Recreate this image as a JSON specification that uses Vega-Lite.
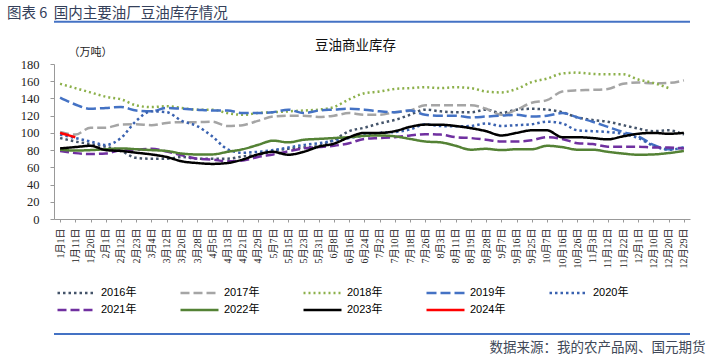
{
"$schema": "https://vega.github.io/schema/vega-lite/v6.json",
"autosize": {"type": "none"},
"width": 636, "height": 155,
"padding": {"left": 54, "top": 64, "right": 23, "bottom": 140},
"background": "white",
"config": {"view": {"stroke": null}},
"title": {"text": "图表 6\u00a0\u00a0国内主要油厂豆油库存情况", "anchor": "start", "frame": "group", "dx": -47, "dy": 1, "offset": 0, "font": "Noto Sans CJK SC", "fontSize": 14.5, "fontWeight": "normal", "color": "#34405a"},
"datasets": {"stock": [
{"d":"1月1日","year":"2016年","v":94},{"d":"1月11日","year":"2016年","v":90},{"d":"1月20日","year":"2016年","v":87},{"d":"2月1日","year":"2016年","v":84},{"d":"2月12日","year":"2016年","v":79},{"d":"2月23日","year":"2016年","v":71},{"d":"3月4日","year":"2016年","v":70},{"d":"3月12日","year":"2016年","v":70},{"d":"3月20日","year":"2016年","v":72},{"d":"3月28日","year":"2016年","v":70},{"d":"4月5日","year":"2016年","v":70},{"d":"4月13日","year":"2016年","v":70},{"d":"4月21日","year":"2016年","v":72.7},{"d":"4月29日","year":"2016年","v":74.6},{"d":"5月7日","year":"2016年","v":79},{"d":"5月15日","year":"2016年","v":81.5},{"d":"5月23日","year":"2016年","v":83},{"d":"5月31日","year":"2016年","v":85},{"d":"6月8日","year":"2016年","v":92},{"d":"6月16日","year":"2016年","v":102},{"d":"6月24日","year":"2016年","v":106},{"d":"7月2日","year":"2016年","v":111},{"d":"7月10日","year":"2016年","v":115},{"d":"7月18日","year":"2016年","v":121},{"d":"7月26日","year":"2016年","v":127},{"d":"8月3日","year":"2016年","v":125},{"d":"8月11日","year":"2016年","v":124},{"d":"8月19日","year":"2016年","v":124},{"d":"8月28日","year":"2016年","v":127},{"d":"9月7日","year":"2016年","v":123},{"d":"9月16日","year":"2016年","v":127},{"d":"9月25日","year":"2016年","v":128},{"d":"10月7日","year":"2016年","v":127},{"d":"10月16日","year":"2016年","v":124},{"d":"10月26日","year":"2016年","v":118},{"d":"11月3日","year":"2016年","v":115},{"d":"11月12日","year":"2016年","v":113},{"d":"11月22日","year":"2016年","v":109},{"d":"12月1日","year":"2016年","v":105},{"d":"12月10日","year":"2016年","v":102},{"d":"12月20日","year":"2016年","v":103},{"d":"12月29日","year":"2016年","v":98},
{"d":"1月1日","year":"2017年","v":101},{"d":"1月11日","year":"2017年","v":98},{"d":"1月20日","year":"2017年","v":106},{"d":"2月1日","year":"2017年","v":106},{"d":"2月12日","year":"2017年","v":109.6},{"d":"2月23日","year":"2017年","v":110},{"d":"3月4日","year":"2017年","v":109},{"d":"3月12日","year":"2017年","v":111.5},{"d":"3月20日","year":"2017年","v":112.5},{"d":"3月28日","year":"2017年","v":112.5},{"d":"4月5日","year":"2017年","v":113},{"d":"4月13日","year":"2017年","v":108},{"d":"4月21日","year":"2017年","v":109},{"d":"4月29日","year":"2017年","v":114},{"d":"5月7日","year":"2017年","v":119},{"d":"5月15日","year":"2017年","v":120},{"d":"5月23日","year":"2017年","v":120},{"d":"5月31日","year":"2017年","v":118.5},{"d":"6月8日","year":"2017年","v":120},{"d":"6月16日","year":"2017年","v":123},{"d":"6月24日","year":"2017年","v":121},{"d":"7月2日","year":"2017年","v":121},{"d":"7月10日","year":"2017年","v":124},{"d":"7月18日","year":"2017年","v":126},{"d":"7月26日","year":"2017年","v":132},{"d":"8月3日","year":"2017年","v":132},{"d":"8月11日","year":"2017年","v":132},{"d":"8月19日","year":"2017年","v":132},{"d":"8月28日","year":"2017年","v":128},{"d":"9月7日","year":"2017年","v":121},{"d":"9月16日","year":"2017年","v":127},{"d":"9月25日","year":"2017年","v":135},{"d":"10月7日","year":"2017年","v":138},{"d":"10月16日","year":"2017年","v":148},{"d":"10月26日","year":"2017年","v":149.5},{"d":"11月3日","year":"2017年","v":150},{"d":"11月12日","year":"2017年","v":151},{"d":"11月22日","year":"2017年","v":157},{"d":"12月1日","year":"2017年","v":158.5},{"d":"12月10日","year":"2017年","v":157.5},{"d":"12月20日","year":"2017年","v":158},{"d":"12月29日","year":"2017年","v":161},
{"d":"1月1日","year":"2018年","v":157},{"d":"1月11日","year":"2018年","v":152},{"d":"1月20日","year":"2018年","v":147},{"d":"2月1日","year":"2018年","v":142},{"d":"2月12日","year":"2018年","v":139},{"d":"2月23日","year":"2018年","v":132},{"d":"3月4日","year":"2018年","v":130},{"d":"3月12日","year":"2018年","v":131},{"d":"3月20日","year":"2018年","v":129},{"d":"3月28日","year":"2018年","v":127},{"d":"4月5日","year":"2018年","v":127},{"d":"4月13日","year":"2018年","v":123},{"d":"4月21日","year":"2018年","v":121},{"d":"4月29日","year":"2018年","v":123},{"d":"5月7日","year":"2018年","v":124},{"d":"5月15日","year":"2018年","v":125},{"d":"5月23日","year":"2018年","v":126},{"d":"5月31日","year":"2018年","v":127},{"d":"6月8日","year":"2018年","v":130},{"d":"6月16日","year":"2018年","v":139},{"d":"6月24日","year":"2018年","v":146},{"d":"7月2日","year":"2018年","v":148},{"d":"7月10日","year":"2018年","v":151},{"d":"7月18日","year":"2018年","v":152},{"d":"7月26日","year":"2018年","v":153},{"d":"8月3日","year":"2018年","v":152},{"d":"8月11日","year":"2018年","v":153},{"d":"8月19日","year":"2018年","v":152},{"d":"8月28日","year":"2018年","v":148},{"d":"9月7日","year":"2018年","v":147},{"d":"9月16日","year":"2018年","v":151},{"d":"9月25日","year":"2018年","v":159},{"d":"10月7日","year":"2018年","v":163},{"d":"10月16日","year":"2018年","v":169},{"d":"10月26日","year":"2018年","v":170},{"d":"11月3日","year":"2018年","v":168.5},{"d":"11月12日","year":"2018年","v":168},{"d":"11月22日","year":"2018年","v":168},{"d":"12月1日","year":"2018年","v":162},{"d":"12月10日","year":"2018年","v":158},{"d":"12月20日","year":"2018年","v":152},
{"d":"1月1日","year":"2019年","v":141},{"d":"1月11日","year":"2019年","v":133},{"d":"1月20日","year":"2019年","v":128},{"d":"2月1日","year":"2019年","v":129},{"d":"2月12日","year":"2019年","v":130},{"d":"2月23日","year":"2019年","v":126},{"d":"3月4日","year":"2019年","v":125},{"d":"3月12日","year":"2019年","v":129},{"d":"3月20日","year":"2019年","v":128},{"d":"3月28日","year":"2019年","v":127},{"d":"4月5日","year":"2019年","v":126},{"d":"4月13日","year":"2019年","v":126},{"d":"4月21日","year":"2019年","v":123},{"d":"4月29日","year":"2019年","v":123},{"d":"5月7日","year":"2019年","v":124},{"d":"5月15日","year":"2019年","v":127},{"d":"5月23日","year":"2019年","v":123},{"d":"5月31日","year":"2019年","v":126},{"d":"6月8日","year":"2019年","v":127},{"d":"6月16日","year":"2019年","v":128},{"d":"6月24日","year":"2019年","v":127},{"d":"7月2日","year":"2019年","v":125},{"d":"7月10日","year":"2019年","v":124},{"d":"7月18日","year":"2019年","v":126},{"d":"7月26日","year":"2019年","v":121},{"d":"8月3日","year":"2019年","v":120},{"d":"8月11日","year":"2019年","v":120},{"d":"8月19日","year":"2019年","v":118},{"d":"8月28日","year":"2019年","v":119},{"d":"9月7日","year":"2019年","v":120},{"d":"9月16日","year":"2019年","v":121},{"d":"9月25日","year":"2019年","v":119},{"d":"10月7日","year":"2019年","v":120},{"d":"10月16日","year":"2019年","v":123},{"d":"10月26日","year":"2019年","v":118},{"d":"11月3日","year":"2019年","v":113},{"d":"11月12日","year":"2019年","v":107},{"d":"11月22日","year":"2019年","v":101},{"d":"12月1日","year":"2019年","v":96},{"d":"12月10日","year":"2019年","v":86},{"d":"12月20日","year":"2019年","v":81},{"d":"12月29日","year":"2019年","v":83},
{"d":"1月1日","year":"2020年","v":98},{"d":"1月11日","year":"2020年","v":94},{"d":"1月20日","year":"2020年","v":90},{"d":"2月1日","year":"2020年","v":86},{"d":"2月12日","year":"2020年","v":94},{"d":"2月23日","year":"2020年","v":114},{"d":"3月4日","year":"2020年","v":125},{"d":"3月12日","year":"2020年","v":124},{"d":"3月20日","year":"2020年","v":114},{"d":"3月28日","year":"2020年","v":108},{"d":"4月5日","year":"2020年","v":96},{"d":"4月13日","year":"2020年","v":81},{"d":"4月21日","year":"2020年","v":77},{"d":"4月29日","year":"2020年","v":78},{"d":"5月7日","year":"2020年","v":80},{"d":"5月15日","year":"2020年","v":83},{"d":"5月23日","year":"2020年","v":86},{"d":"5月31日","year":"2020年","v":88},{"d":"6月8日","year":"2020年","v":91},{"d":"6月16日","year":"2020年","v":94},{"d":"6月24日","year":"2020年","v":97},{"d":"7月2日","year":"2020年","v":100},{"d":"7月10日","year":"2020年","v":101},{"d":"7月18日","year":"2020年","v":104},{"d":"7月26日","year":"2020年","v":110},{"d":"8月3日","year":"2020年","v":108},{"d":"8月11日","year":"2020年","v":107.6},{"d":"8月19日","year":"2020年","v":108},{"d":"8月28日","year":"2020年","v":111},{"d":"9月7日","year":"2020年","v":108},{"d":"9月16日","year":"2020年","v":109},{"d":"9月25日","year":"2020年","v":110},{"d":"10月7日","year":"2020年","v":113},{"d":"10月16日","year":"2020年","v":111},{"d":"10月26日","year":"2020年","v":103},{"d":"11月3日","year":"2020年","v":102},{"d":"11月12日","year":"2020年","v":101},{"d":"11月22日","year":"2020年","v":99},{"d":"12月1日","year":"2020年","v":94},{"d":"12月10日","year":"2020年","v":85},{"d":"12月20日","year":"2020年","v":80.5},{"d":"12月29日","year":"2020年","v":83},
{"d":"1月1日","year":"2021年","v":79},{"d":"1月11日","year":"2021年","v":76.5},{"d":"1月20日","year":"2021年","v":75.5},{"d":"2月1日","year":"2021年","v":76},{"d":"2月12日","year":"2021年","v":80},{"d":"2月23日","year":"2021年","v":80.5},{"d":"3月4日","year":"2021年","v":81.5},{"d":"3月12日","year":"2021年","v":78.5},{"d":"3月20日","year":"2021年","v":74},{"d":"3月28日","year":"2021年","v":70},{"d":"4月5日","year":"2021年","v":69},{"d":"4月13日","year":"2021年","v":67},{"d":"4月21日","year":"2021年","v":68},{"d":"4月29日","year":"2021年","v":72},{"d":"5月7日","year":"2021年","v":75},{"d":"5月15日","year":"2021年","v":78.5},{"d":"5月23日","year":"2021年","v":82},{"d":"5月31日","year":"2021年","v":83.5},{"d":"6月8日","year":"2021年","v":85},{"d":"6月16日","year":"2021年","v":88},{"d":"6月24日","year":"2021年","v":93},{"d":"7月2日","year":"2021年","v":94},{"d":"7月10日","year":"2021年","v":95},{"d":"7月18日","year":"2021年","v":97},{"d":"7月26日","year":"2021年","v":98.5},{"d":"8月3日","year":"2021年","v":98},{"d":"8月11日","year":"2021年","v":95},{"d":"8月19日","year":"2021年","v":94},{"d":"8月28日","year":"2021年","v":92},{"d":"9月7日","year":"2021年","v":90},{"d":"9月16日","year":"2021年","v":90},{"d":"9月25日","year":"2021年","v":91.5},{"d":"10月7日","year":"2021年","v":95},{"d":"10月16日","year":"2021年","v":93},{"d":"10月26日","year":"2021年","v":88},{"d":"11月3日","year":"2021年","v":87},{"d":"11月12日","year":"2021年","v":84},{"d":"11月22日","year":"2021年","v":84},{"d":"12月1日","year":"2021年","v":84},{"d":"12月10日","year":"2021年","v":83},{"d":"12月20日","year":"2021年","v":83},{"d":"12月29日","year":"2021年","v":82},
{"d":"1月1日","year":"2022年","v":80.5},{"d":"1月11日","year":"2022年","v":79.5},{"d":"1月20日","year":"2022年","v":80},{"d":"2月1日","year":"2022年","v":81},{"d":"2月12日","year":"2022年","v":82},{"d":"2月23日","year":"2022年","v":81},{"d":"3月4日","year":"2022年","v":80},{"d":"3月12日","year":"2022年","v":79},{"d":"3月20日","year":"2022年","v":76},{"d":"3月28日","year":"2022年","v":75},{"d":"4月5日","year":"2022年","v":75},{"d":"4月13日","year":"2022年","v":78},{"d":"4月21日","year":"2022年","v":81},{"d":"4月29日","year":"2022年","v":86},{"d":"5月7日","year":"2022年","v":91},{"d":"5月15日","year":"2022年","v":89},{"d":"5月23日","year":"2022年","v":92},{"d":"5月31日","year":"2022年","v":93},{"d":"6月8日","year":"2022年","v":94},{"d":"6月16日","year":"2022年","v":95},{"d":"6月24日","year":"2022年","v":96.5},{"d":"7月2日","year":"2022年","v":97},{"d":"7月10日","year":"2022年","v":96},{"d":"7月18日","year":"2022年","v":93},{"d":"7月26日","year":"2022年","v":90},{"d":"8月3日","year":"2022年","v":89},{"d":"8月11日","year":"2022年","v":85},{"d":"8月19日","year":"2022年","v":80.5},{"d":"8月28日","year":"2022年","v":81.5},{"d":"9月7日","year":"2022年","v":80},{"d":"9月16日","year":"2022年","v":81},{"d":"9月25日","year":"2022年","v":81},{"d":"10月7日","year":"2022年","v":85},{"d":"10月16日","year":"2022年","v":83.5},{"d":"10月26日","year":"2022年","v":80.5},{"d":"11月3日","year":"2022年","v":80.5},{"d":"11月12日","year":"2022年","v":78},{"d":"11月22日","year":"2022年","v":76},{"d":"12月1日","year":"2022年","v":74.6},{"d":"12月10日","year":"2022年","v":75},{"d":"12月20日","year":"2022年","v":76.6},{"d":"12月29日","year":"2022年","v":79},
{"d":"1月1日","year":"2023年","v":82},{"d":"1月11日","year":"2023年","v":83.5},{"d":"1月20日","year":"2023年","v":85},{"d":"2月1日","year":"2023年","v":80},{"d":"2月12日","year":"2023年","v":79},{"d":"2月23日","year":"2023年","v":77},{"d":"3月4日","year":"2023年","v":75},{"d":"3月12日","year":"2023年","v":72},{"d":"3月20日","year":"2023年","v":67},{"d":"3月28日","year":"2023年","v":65},{"d":"4月5日","year":"2023年","v":64},{"d":"4月13日","year":"2023年","v":65},{"d":"4月21日","year":"2023年","v":69},{"d":"4月29日","year":"2023年","v":75},{"d":"5月7日","year":"2023年","v":78},{"d":"5月15日","year":"2023年","v":74.6},{"d":"5月23日","year":"2023年","v":78},{"d":"5月31日","year":"2023年","v":84},{"d":"6月8日","year":"2023年","v":87.5},{"d":"6月16日","year":"2023年","v":95},{"d":"6月24日","year":"2023年","v":100},{"d":"7月2日","year":"2023年","v":100},{"d":"7月10日","year":"2023年","v":102},{"d":"7月18日","year":"2023年","v":107},{"d":"7月26日","year":"2023年","v":109.6},{"d":"8月3日","year":"2023年","v":109.5},{"d":"8月11日","year":"2023年","v":108},{"d":"8月19日","year":"2023年","v":105.5},{"d":"8月28日","year":"2023年","v":102},{"d":"9月7日","year":"2023年","v":97},{"d":"9月16日","year":"2023年","v":100},{"d":"9月25日","year":"2023年","v":103},{"d":"10月7日","year":"2023年","v":103},{"d":"10月16日","year":"2023年","v":95},{"d":"10月26日","year":"2023年","v":95},{"d":"11月3日","year":"2023年","v":94},{"d":"11月12日","year":"2023年","v":92.5},{"d":"11月22日","year":"2023年","v":96},{"d":"12月1日","year":"2023年","v":99},{"d":"12月10日","year":"2023年","v":100},{"d":"12月20日","year":"2023年","v":99},{"d":"12月29日","year":"2023年","v":100},
{"d":"1月1日","year":"2024年","v":100},{"d":"1月11日","year":"2024年","v":95}
]},
"data": {"name": "stock"},
"resolve": {"axis": {"x": "independent", "y": "independent"}},
"layer": [
{
"transform": [{"filter": "datum.year !== '2024年'"}],
"mark": {"type": "line", "strokeWidth": 2.5, "strokeCap": "butt", "interpolate": "monotone"},
"encoding": {
"x": {"field": "d", "type": "ordinal", "scale": {"type": "point", "padding": 0.4, "domain": ["1月1日","1月11日","1月20日","2月1日","2月12日","2月23日","3月4日","3月12日","3月20日","3月28日","4月5日","4月13日","4月21日","4月29日","5月7日","5月15日","5月23日","5月31日","6月8日","6月16日","6月24日","7月2日","7月10日","7月18日","7月26日","8月3日","8月11日","8月19日","8月28日","9月7日","9月16日","9月25日","10月7日","10月16日","10月26日","11月3日","11月12日","11月22日","12月1日","12月10日","12月20日","12月29日"]},
 "axis": {"title": "数据来源：我的农产品网、国元期货", "titleFont": "Noto Sans CJK SC", "titleFontSize": 13.5, "titleFontWeight": "normal", "titleColor": "#404858", "titleAnchor": "end", "titleAlign": "right", "titleX": 651, "titleY": 128, "titleBaseline": "middle", "labelAngle": 270, "labelFont": "Liberation Serif, Noto Sans CJK SC", "labelFontSize": 10, "labelColor": "#222222", "labelPadding": 6, "labelOverlap": false, "tickSize": 3, "tickColor": "#999999", "domainColor": "#999999", "grid": false}},
"y": {"field": "v", "type": "quantitative", "scale": {"domain": [0, 180], "nice": false},
 "axis": {"values": [0,20,40,60,80,100,120,140,160,180], "title": "（万吨）", "titleAngle": 0, "titleX": 14, "titleY": -12, "titleAlign": "left", "titleBaseline": "middle", "titleFont": "Noto Sans CJK SC", "titleFontSize": 11, "titleFontWeight": "normal", "titleColor": "#222222", "labelFont": "Liberation Serif", "labelFontSize": 12.5, "labelColor": "#222222", "labelPadding": 11, "tickSize": 4, "tickColor": "#999999", "domainColor": "#999999", "grid": false}},
"color": {"field": "year", "type": "nominal", "scale": {"domain": ["2016年","2017年","2018年","2019年","2020年","2021年","2022年","2023年","2024年"], "range": ["#44546A","#A5A5A5","#8CB04A","#4472C4","#3A62B0","#7030A0","#548235","#000000","#FF0000"]},
 "legend": {"orient": "none", "legendX": 2, "legendY": 222, "direction": "horizontal", "columns": 5, "columnPadding": 42, "rowPadding": 3, "clipHeight": 14, "padding": 0, "symbolType": "stroke", "symbolSize": 1444, "symbolStrokeWidth": 2.5, "labelFont": "Liberation Sans, Noto Sans CJK SC", "labelFontSize": 11, "labelColor": "#000000", "labelOffset": 4, "title": null}},
"strokeDash": {"field": "year", "type": "nominal", "scale": {"domain": ["2016年","2017年","2018年","2019年","2020年","2021年","2022年","2023年","2024年"], "range": [[2.5,3],[9,4],[2,3],[10,4],[2.5,3],[9,4],[1,0],[1,0],[1,0]]},
 "legend": {"orient": "none", "legendX": 2, "legendY": 222, "direction": "horizontal", "columns": 5, "columnPadding": 42, "rowPadding": 3, "clipHeight": 14, "padding": 0, "symbolType": "stroke", "symbolSize": 1444, "symbolStrokeWidth": 2.5, "labelFont": "Liberation Sans, Noto Sans CJK SC", "labelFontSize": 11, "labelColor": "#000000", "labelOffset": 4, "title": null}}
}
},
{
"transform": [{"filter": "datum.year === '2024年'"}],
"mark": {"type": "line", "strokeWidth": 2.5, "strokeCap": "butt", "interpolate": "monotone"},
"encoding": {
"x": {"field": "d", "type": "ordinal", "scale": {"type": "point", "padding": 0.4, "domain": ["1月1日","1月11日","1月20日","2月1日","2月12日","2月23日","3月4日","3月12日","3月20日","3月28日","4月5日","4月13日","4月21日","4月29日","5月7日","5月15日","5月23日","5月31日","6月8日","6月16日","6月24日","7月2日","7月10日","7月18日","7月26日","8月3日","8月11日","8月19日","8月28日","9月7日","9月16日","9月25日","10月7日","10月16日","10月26日","11月3日","11月12日","11月22日","12月1日","12月10日","12月20日","12月29日"]},
 "axis": {"orient": "top", "labels": false, "ticks": false, "domain": false, "grid": false, "title": "豆油商业库存", "titleFont": "Noto Sans CJK SC", "titleFontSize": 13.5, "titleFontWeight": "normal", "titleColor": "#111111", "titleX": 301, "titleY": -19, "titleAlign": "center", "titleBaseline": "middle"}},
"y": {"field": "v", "type": "quantitative", "scale": {"domain": [0, 180], "nice": false}, "axis": null},
"color": {"field": "year", "type": "nominal", "scale": {"domain": ["2016年","2017年","2018年","2019年","2020年","2021年","2022年","2023年","2024年"], "range": ["#44546A","#A5A5A5","#8CB04A","#4472C4","#3A62B0","#7030A0","#548235","#000000","#FF0000"]},
 "legend": {"orient": "none", "legendX": 2, "legendY": 222, "direction": "horizontal", "columns": 5, "columnPadding": 42, "rowPadding": 3, "clipHeight": 14, "padding": 0, "symbolType": "stroke", "symbolSize": 1444, "symbolStrokeWidth": 2.5, "labelFont": "Liberation Sans, Noto Sans CJK SC", "labelFontSize": 11, "labelColor": "#000000", "labelOffset": 4, "title": null}},
"strokeDash": {"field": "year", "type": "nominal", "scale": {"domain": ["2016年","2017年","2018年","2019年","2020年","2021年","2022年","2023年","2024年"], "range": [[2.5,3],[9,4],[2,3],[10,4],[2.5,3],[9,4],[1,0],[1,0],[1,0]]},
 "legend": {"orient": "none", "legendX": 2, "legendY": 222, "direction": "horizontal", "columns": 5, "columnPadding": 42, "rowPadding": 3, "clipHeight": 14, "padding": 0, "symbolType": "stroke", "symbolSize": 1444, "symbolStrokeWidth": 2.5, "labelFont": "Liberation Sans, Noto Sans CJK SC", "labelFontSize": 11, "labelColor": "#000000", "labelOffset": 4, "title": null}}
}
},
{
"data": {"values": [{}]},
"mark": {"type": "rule", "color": "#4472C4", "strokeWidth": 2},
"encoding": {"y": {"datum": 229, "type": "quantitative", "scale": {"domain": [0, 180], "nice": false}, "axis": null}}
},
{
"data": {"values": [{}]},
"mark": {"type": "rule", "color": "#4472C4", "strokeWidth": 2},
"encoding": {"y": {"datum": -133.5, "type": "quantitative", "scale": {"domain": [0, 180], "nice": false}, "axis": null}}
}
]
}
